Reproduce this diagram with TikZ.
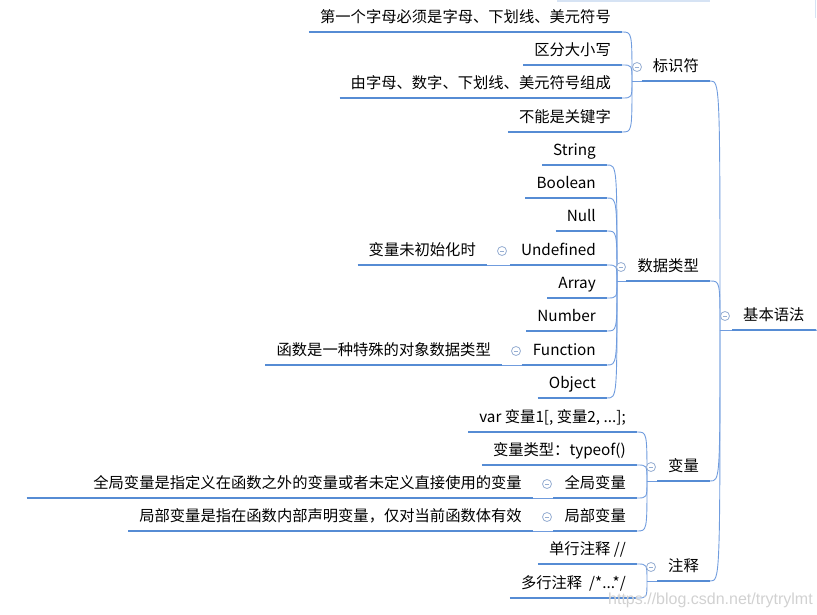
\documentclass[tikz,border=0pt]{standalone}
\usepackage{fontspec}
\setmainfont{Noto Sans CJK SC}
\newfontfamily\markfont{Liberation Sans}
\usetikzlibrary{calc}

\definecolor{mapblue}{RGB}{86,140,212}
\definecolor{linkblue}{RGB}{112,156,222}
\definecolor{foldgray}{RGB}{150,174,210}
\definecolor{faintblue}{RGB}{214,227,244}

\begin{document}
\begin{tikzpicture}[x=1pt,y=-1pt,
    topic/.style={font=\fontsize{15.3}{18}\selectfont,inner xsep=11pt,inner ysep=6pt,
      text height=14pt,text depth=3pt,anchor=south east},
    uline/.style={line width=2.8pt,mapblue},
    link/.style={line width=0.9pt,linkblue},
    fold/.style={circle,draw=foldgray,fill=white,line width=0.8pt,inner sep=0pt,minimum size=9pt,
      path picture={\draw[foldgray,line width=0.8pt]
        ([xshift=-2.2pt]path picture bounding box.center) -- ([xshift=2.2pt]path picture bounding box.center);}}
]
\useasboundingbox (0,0) rectangle (817,615);

% root
\node[topic,anchor=south west] (syntax) at (732,330) {基本语法};
\coordinate (syntax-b) at (720,330);
\coordinate (syntax-up) at (819,362);

% first level
\node[topic] (ident) at (710,81) {标识符};
\node[topic] (dtype) at (710,281) {数据类型};
\node[topic] (var) at (710,481) {变量};
\node[topic] (cmt) at (710,581) {注释};
\coordinate (ident-b) at (632,81);
\coordinate (dtype-b) at (617,281);
\coordinate (var-b) at (647,481);
\coordinate (cmt-b) at (647,581);

% identifiers
\node[topic] (id1) at (622,32) {第一个字母必须是字母、下划线、美元符号};
\node[topic] (id2) at (622,65) {区分大小写};
\node[topic] (id3) at (622,98) {由字母、数字、下划线、美元符号组成};
\node[topic] (id4) at (622,132) {不能是关键字};

% data types
\node[topic] (str) at (607,165) {String};
\node[topic] (bool) at (607,198) {Boolean};
\node[topic] (null) at (607,231) {Null};
\node[topic] (undef) at (607,265) {Undefined};
\node[topic] (arr) at (607,298) {Array};
\node[topic] (num) at (607,331) {Number};
\node[topic] (func) at (607,365) {Function};
\node[topic] (obj) at (607,398) {Object};
\node[topic] (undefnote) at (487,265) {变量未初始化时};
\node[topic] (funcnote) at (502,365) {函数是一种特殊的对象数据类型};

% variables
\node[topic] (decl) at (637,432) {var 变量1[, 变量2, ...];};
\node[topic] (tyof) at (637,465) {变量类型：typeof()};
\node[topic] (glob) at (637,498) {全局变量};
\node[topic] (loc) at (637,531) {局部变量};
\node[topic,text width=484pt,align=right] (globnote) at (533,498) {全局变量是指定义在函数之外的变量或者未定义直接使用的变量};
\node[topic] (locnote) at (533,531) {局部变量是指在函数内部声明变量，仅对当前函数体有效};

% comments
\node[topic] (single) at (637,564) {单行注释 //};
\node[topic] (multi) at (637,598) {多行注释 \ /*...*/};

% underlines
\foreach \n in {syntax,ident,dtype,var,cmt,id1,id2,id3,id4,str,bool,null,undef,arr,num,func,obj,
    undefnote,funcnote,decl,tyof,glob,loc,globnote,locnote,single,multi}
  \draw[uline] (\n.south west) -- (\n.south east);

% branches
\foreach \p/\kids in {syntax/{ident,dtype,var,cmt},ident/{id1,id2,id3,id4},
    dtype/{str,bool,null,undef,arr,num,func,obj},var/{decl,tyof,glob,loc},cmt/{single,multi}} {
  \draw[link] (\p-b) -- (\p.south west);
  \foreach \c in \kids
    \draw[link] (\p-b) .. controls (\p-b |- \c.south east) .. (\c.south east);
}
\draw[link] (undefnote.south east) -- (undef.south west);
\draw[link] (funcnote.south east) -- (func.south west);
\draw[link] (globnote.south east) -- (glob.south west);
\draw[link] (locnote.south east) -- (loc.south west);
\draw[link] (syntax.south east) .. controls (syntax-up |- syntax.south east) .. (syntax-up);

% fold markers
\node[fold] (f-syntax) at (725,316) {};
\node[fold] (f-ident) at (637,67) {};
\node[fold] (f-dtype) at (621,267) {};
\node[fold] (f-undef) at (502,251) {};
\node[fold] (f-func) at (516,351) {};
\node[fold] (f-var) at (651,467) {};
\node[fold] (f-glob) at (547,484) {};
\node[fold] (f-loc) at (547,517) {};
\node[fold] (f-cmt) at (651,567) {};

% cut-off edges at the top
\draw[faintblue,line width=1.5pt] (557,1) -- (710,1);
\draw[faintblue,line width=1pt] (815,0) -- (815,18);

% watermark
\node[font=\markfont\fontsize{16}{18}\selectfont,text=black!18,anchor=base west,inner sep=0pt]
  (mark) at (608,604) {https://blog.csdn.net/trytrylmt};
\end{tikzpicture}
\end{document}
